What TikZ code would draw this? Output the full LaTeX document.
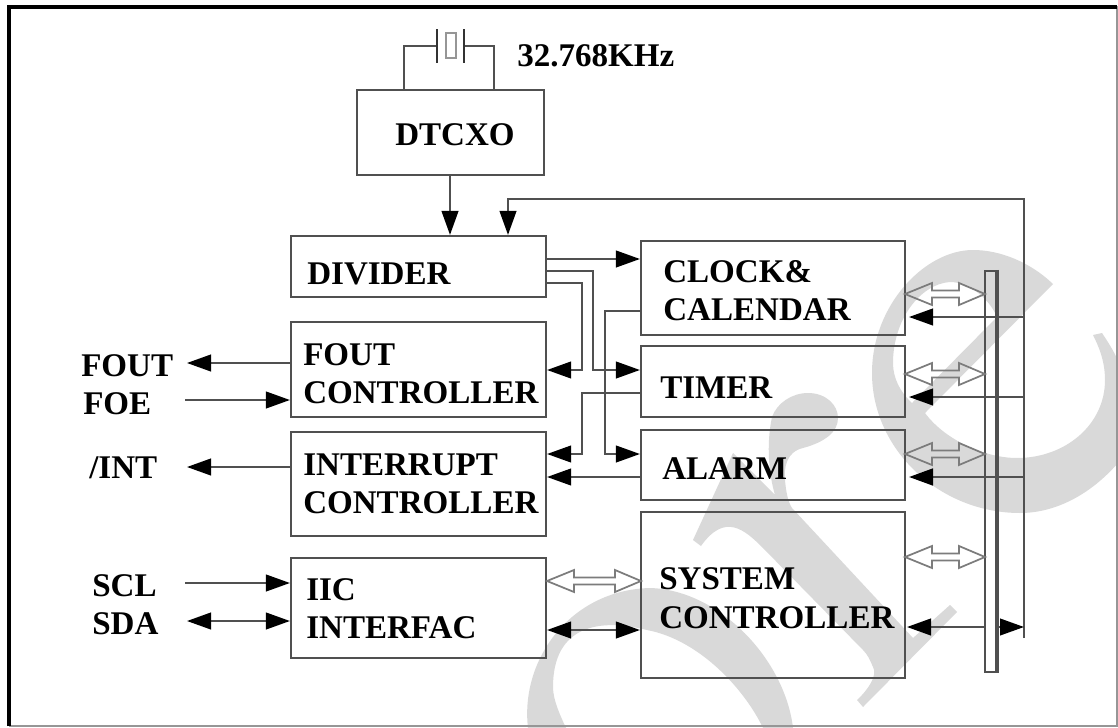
\documentclass[tikz,border=0pt]{standalone}
\usepackage{fontspec}
\setmainfont{Liberation Serif}
\usetikzlibrary{arrows.meta}
\definecolor{wm}{HTML}{D9D9D9}
\definecolor{ln}{HTML}{505050}
\tikzset{
  x=0.75pt,y=-0.75pt,
  boxn/.style={draw=ln,line width=1.6pt,rectangle,inner sep=0pt,minimum width=#1},
  lbl/.style={anchor=base west,inner sep=0pt,font=\bfseries\fontsize{24.8}{30}\selectfont,text=black},
  wire/.style={draw=ln,line width=1.5pt},
  tip/.tip={Triangle[length=18pt,width=12.5pt,color=black]},
  arr/.style={wire,-{tip}},
  arl/.style={wire,{tip}-},
  arb/.style={wire,{tip}-{tip}},
  hollow/.style={draw=ln!75,line width=1.3pt,line join=miter},
}
\newcommand{\mybox}[5]{\node[boxn=#4*0.75pt,minimum height=#5*0.75pt] (#1) at (#2,#3) {};}
% hollow double arrow: x1 x2 y
\newcommand{\hollowarr}[3]{%
  \draw[hollow] (#1,#3) -- ({#1+27},{#3-11}) -- ({#1+27},{#3-3.5}) -- ({#2-26},{#3-3.5}) -- ({#2-26},{#3-11})
    -- (#2,#3) -- ({#2-26},{#3+11}) -- ({#2-26},{#3+3.5}) -- ({#1+27},{#3+3.5}) -- ({#1+27},{#3+11}) -- cycle;}
\begin{document}
\begin{tikzpicture}
\useasboundingbox (0,0) rectangle (1118,728);
\fill[white] (0,0) rectangle (1118,728);
% watermark
\fill[wm] (528,728) .. controls (520,660) and (570,590) .. (650,588)
  .. controls (720,590) and (785,660) .. (793,728) -- (763,728)
  .. controls (745,690) and (700,640) .. (647,630)
  .. controls (600,618) and (553,625) .. (553,687)
  .. controls (553,700) and (560,715) .. (566,728) -- cycle;
\fill[wm] (693,540) -- (733,453) -- (775,495)
  .. controls (769,475) and (766,445) .. (772,417)
  .. controls (777,403) and (792,393) .. (808,393)
  .. controls (826,393) and (838,405) .. (838,418)
  .. controls (838,432) and (825,442) .. (803,448)
  .. controls (786,452) and (784,468) .. (785,480)
  .. controls (786,492) and (788,502) .. (792,508)
  -- (913,638) -- (950,605) -- (957,612) -- (863,707) -- (857,700)
  .. controls (868,690) and (878,675) .. (873,667)
  .. controls (870,660) and (868,655) .. (863,650)
  -- (763,548) .. controls (745,530) and (725,512) .. (701,546)
  -- cycle;
\fill[wm,even odd rule] (1053,284) -- (925,413) .. controls (945,440) and (985,458) .. (1017,458)
  .. controls (1065,458) and (1105,425) .. (1105,380)
  .. controls (1105,360) and (1098,345) .. (1093,335) -- (1102,333)
  .. controls (1110,345) and (1118,358) .. (1118,363) -- (1118,463)
  .. controls (1090,495) and (1055,513) .. (1020,513)
  .. controls (940,513) and (872,450) .. (872,373)
  .. controls (872,305) and (925,250) .. (973,250)
  .. controls (1000,250) and (1030,262) .. (1053,284) -- cycle
  (997,317) .. controls (990,300) and (970,282) .. (950,282)
  .. controls (920,284) and (893,320) .. (893,363)
  .. controls (893,378) and (900,392) .. (912,403) -- cycle;
% frame
\draw[draw=ln!60,line width=1pt] (9,7) -- (1117,7) -- (1117,726) -- (9,726);
\draw[black,line width=3pt] (9,726) -- (9,7) -- (1117,7);
% boxes
\mybox{dtcxo}{450.5}{132.5}{187}{85}
\mybox{divider}{418.5}{266.5}{255}{61}
\mybox{fout}{418.5}{369.5}{255}{95}
\mybox{intc}{418.5}{484}{255}{104}
\mybox{iic}{418.5}{608}{255}{100}
\mybox{clock}{773}{288}{264}{94}
\mybox{timer}{773}{381.5}{264}{71}
\mybox{alarm}{773}{465}{264}{70}
\mybox{sys}{773}{595}{264}{166}
\mybox{bus}{990.5}{471.5}{11}{401}
\draw[ln,line width=2.2pt] (bus.north east) -- (bus.south east);
% labels
\node[lbl] (t1) at (517,66) {32.768KHz};
\node[lbl] (t2) at (395,145) {DTCXO};
\node[lbl] (t3) at (307,284) {DIVIDER};
\node[lbl] (t4) at (303,365) {FOUT};
\node[lbl] (t5) at (303,403) {CONTROLLER};
\node[lbl] (t6) at (303,475) {INTERRUPT};
\node[lbl] (t7) at (303,513) {CONTROLLER};
\node[lbl] (t8) at (306,600) {IIC};
\node[lbl] (t9) at (306,638) {INTERFAC};
\node[lbl] (t10) at (663,282) {CLOCK\&};
\node[lbl] (t11) at (663,320) {CALENDAR};
\node[lbl] (t12) at (660,398) {TIMER};
\node[lbl] (t13) at (662,479) {ALARM};
\node[lbl] (t14) at (659,589) {SYSTEM};
\node[lbl] (t15) at (659,628) {CONTROLLER};
\node[lbl] (fo) at (81,376) {FOUT};
\node[lbl] (fe) at (83,414) {FOE};
\node[lbl] (in) at (89,478) {/INT};
\node[lbl] (sc) at (92,596) {SCL};
\node[lbl] (sd) at (92,634) {SDA};
% crystal
\coordinate (pl) at (437,46);
\coordinate (pr) at (464,46);
\draw[wire] (dtcxo.north -| 404,0) -- (404,46) -- (pl);
\draw[wire] (dtcxo.north -| 494,0) -- (494,46) -- (pr);
\draw[black!80,line width=1.8pt] (437,29) -- (437,63);
\draw[black!80,line width=1.8pt] (464,29) -- (464,63);
\node[draw=ln!60,line width=1.4pt,minimum width=7.5pt,minimum height=18.5pt,inner sep=0pt] (xt) at (451,45.5) {};
% vertical arrows
\draw[arr] (dtcxo.south -| 450,0) -- (divider.north -| 450,0);
\coordinate (rt) at (1024,199);
\coordinate (rb) at (1024,638);
\draw[arr] (rb) -- (rt) -- (508,199) -- (divider.north -| 508,0);
% divider wires
\draw[arr] (divider.east |- 0,259) -- (clock.west |- 0,259);
\draw[arr] (divider.east |- 0,271) -- (593,271) -- (593,370) -- (timer.west |- 0,370);
\draw[arr] (divider.east |- 0,283) -- (582,283) -- (582,370) -- (fout.east |- 0,370);
\draw[arr] (clock.west |- 0,311) -- (605,311) -- (605,454) -- (alarm.west |- 0,454);
\draw[arr] (timer.west |- 0,393) -- (582,393) -- (582,454) -- (intc.east |- 0,454);
\draw[arr] (alarm.west |- 0,477) -- (intc.east |- 0,477);
% left pins
\coordinate (c1) at (187,363);
\coordinate (c2) at (185,400);
\coordinate (c3) at (187,467);
\coordinate (c4) at (185,583);
\coordinate (c5) at (187,621);
\draw[arr] (fout.west |- c1) -- (c1);
\draw[arr] (c2) -- (fout.west |- c2);
\draw[arr] (intc.west |- c3) -- (c3);
\draw[arr] (c4) -- (iic.west |- c4);
\draw[arb] (c5) -- (iic.west |- c5);
% iic-sys
\draw[arb] (iic.east |- 0,630) -- (sys.west |- 0,630);
\hollowarr{547}{641}{581}
% right side
\hollowarr{905}{985}{294}
\hollowarr{905}{985}{374}
\hollowarr{905}{985}{454}
\hollowarr{905}{985}{557}
\draw[arl] (909,317) -- (1024,317);
\draw[arl] (909,397) -- (1024,397);
\draw[arl,line width=2pt] (909,477) -- (1024,477);
\draw[arl] (907,627) -- (bus.west |- 0,627);
\draw[arr] (bus.east |- 0,627) -- (1024,627);
\end{tikzpicture}
\end{document}
